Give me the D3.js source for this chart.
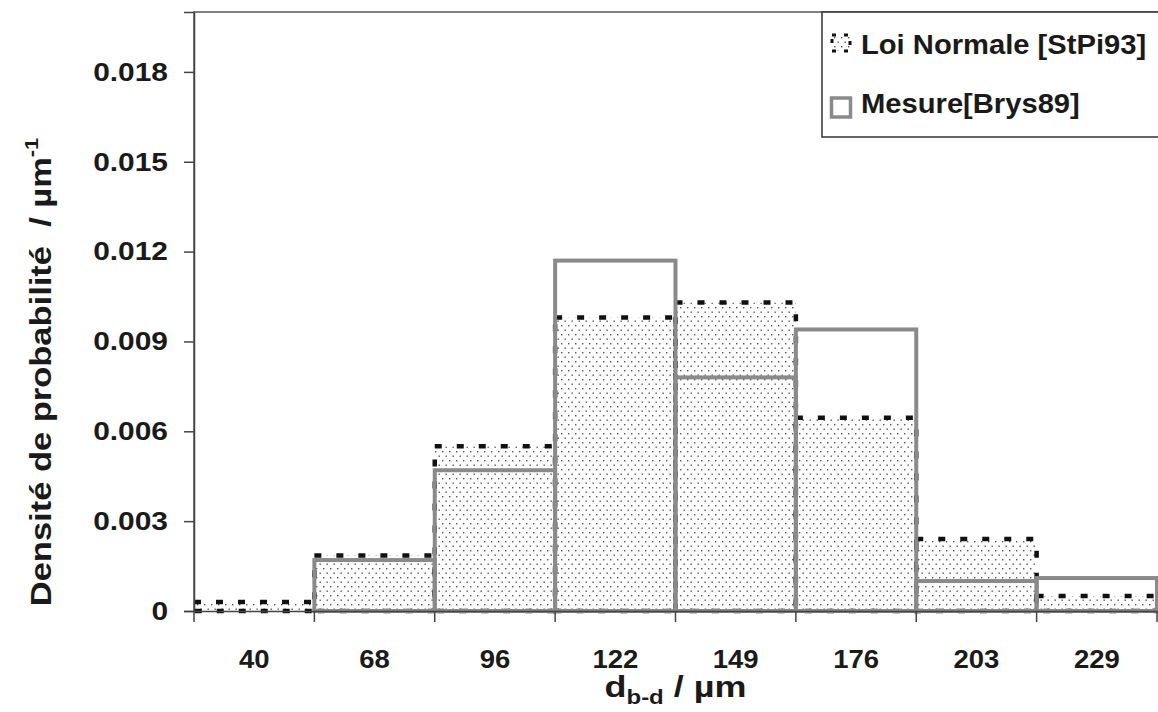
<!DOCTYPE html>
<html><head><meta charset="utf-8">
<script src="https://cdn.jsdelivr.net/npm/d3@7"></script>
<style>
html,body{margin:0;padding:0;background:#fff;}
svg{display:block;}
text{font-family:"Liberation Sans",Arial,sans-serif;font-weight:bold;fill:#1a1a1a;}
</style></head>
<body>
<svg id="c" width="1158" height="712"></svg>
<script>
const categories = ["40","68","96","122","149","176","203","229"];
const loiNormale = [0.0003, 0.00185, 0.0055, 0.0098, 0.0103, 0.00645, 0.0024, 0.0005];
const mesure = [0, 0.0017, 0.0047, 0.0117, 0.0078, 0.0094, 0.001, 0.0011];
const yTicks = [0, 0.003, 0.006, 0.009, 0.012, 0.015, 0.018];
const legendLabels = ["Loi Normale [StPi93]", "Mesure[Brys89]"];

const svg = d3.select("#c");
const L = 194, R = 1157, T = 12, B = 611;

const x = d3.scaleBand().domain(categories).range([L, R]).padding(0);
const y = d3.scaleLinear().domain([0, 0.02]).range([B, T]);

function stretch(sel, k) {
  sel.each(function() {
    const l = this.getComputedTextLength();
    d3.select(this).attr("textLength", l * k).attr("lengthAdjust", "spacingAndGlyphs");
  });
}

const defs = svg.append("defs");
const pat = defs.append("pattern").attr("id","dots").attr("patternUnits","userSpaceOnUse")
  .attr("width",7).attr("height",9);
pat.append("rect").attr("width",7).attr("height",9).attr("fill","#fff");
pat.append("rect").attr("x",1).attr("y",1).attr("width",1.4).attr("height",1.4).attr("fill","#555");
pat.append("rect").attr("x",4.5).attr("y",5.5).attr("width",1.4).attr("height",1.4).attr("fill","#555");

// frame
svg.append("rect").attr("x",L).attr("y",T).attr("width",1300-L).attr("height",B-T)
  .attr("fill","#fff").attr("stroke","#555").attr("stroke-width",1.5);

// Loi normale bars
svg.append("g").selectAll("rect").data(categories).join("rect")
  .attr("x", d => x(d)).attr("width", x.bandwidth())
  .attr("y", (d,i) => y(loiNormale[i])).attr("height", (d,i) => y(0) - y(loiNormale[i]))
  .attr("fill","url(#dots)").attr("stroke","#111").attr("stroke-width",4.5)
  .attr("stroke-dasharray","7,15");

// Mesure bars
const mesIdx = categories.map((d,i) => i).filter(i => mesure[i] > 0);
svg.append("g").selectAll("rect").data(mesIdx).join("rect")
  .attr("x", i => x(categories[i])).attr("width", x.bandwidth())
  .attr("y", i => y(mesure[i]))
  .attr("height", i => y(0) - y(mesure[i]))
  .attr("fill","none").attr("stroke","#8a8a8a").attr("stroke-width",4);

// axes
const yAxis = svg.append("g").attr("transform",`translate(${L},0)`)
  .call(d3.axisLeft(y).tickValues(yTicks).tickSize(10).tickPadding(16)
    .tickFormat(d => d === 0 ? "0" : d3.format(".3f")(d)));
yAxis.select(".domain").attr("stroke","#444").attr("stroke-width",1.5);
yAxis.selectAll(".tick line").attr("stroke","#444").attr("stroke-width",1.5);
yAxis.selectAll(".tick text").attr("font-size",26).attr("font-family","Liberation Sans, Arial").attr("font-weight","bold").attr("fill","#1a1a1a");
stretch(yAxis.selectAll(".tick text"), 1.15);

const xAxis = svg.append("g").attr("transform",`translate(0,${B})`)
  .call(d3.axisBottom(x).tickSize(0).tickPadding(39));
xAxis.select(".domain").attr("stroke","#444").attr("stroke-width",1.5);
xAxis.selectAll(".tick text").attr("font-size",25).attr("font-family","Liberation Sans, Arial").attr("font-weight","bold").attr("fill","#1a1a1a");
stretch(xAxis.selectAll(".tick text"), 1.1);
const edges = categories.map(c => x(c)).concat([x(categories[categories.length-1]) + x.bandwidth()]);
svg.append("g").selectAll("line").data(edges).join("line")
  .attr("x1", d => d).attr("x2", d => d).attr("y1", B).attr("y2", B + 11)
  .attr("stroke","#444").attr("stroke-width",1.5);

// axis titles
const xt = svg.append("g").attr("transform",`translate(${(L+R)/2},697) scale(1.2,1)`)
  .append("text").attr("text-anchor","middle").attr("font-size",30);
xt.append("tspan").text("d");
xt.append("tspan").attr("font-size",20).attr("dy",7).text("b-d");
xt.append("tspan").attr("dy",-7).text(" / µm");

const yt = svg.append("g").attr("transform","translate(51,372) rotate(-90) scale(1.15,1)")
  .append("text").attr("text-anchor","middle").attr("font-size",30).style("white-space","pre");
yt.append("tspan").text("Densité de probabilité \u00a0/ µm");
yt.append("tspan").attr("font-size",19).attr("dy",-13).text("-1");

// legend
const lg = svg.append("g");
lg.append("rect").attr("x",822).attr("y",T).attr("width",400).attr("height",125)
  .attr("fill","#fff").attr("stroke","#333").attr("stroke-width",1.5);
lg.append("rect").attr("x",832).attr("y",35).attr("width",18).attr("height",16)
  .attr("fill","url(#dots)").attr("stroke","#111").attr("stroke-width",3).attr("stroke-dasharray","4,8");
lg.append("rect").attr("x",831.5).attr("y",98).attr("width",19).attr("height",19)
  .attr("fill","none").attr("stroke","#8a8a8a").attr("stroke-width",3.5);
const lt = lg.selectAll("text.lt").data(legendLabels).join("text").attr("class","lt")
  .attr("x",861).attr("y",(d,i) => 54 + i*59).attr("font-size",27).text(d => d);
stretch(lt, 1.08);
</script>
</body></html>
